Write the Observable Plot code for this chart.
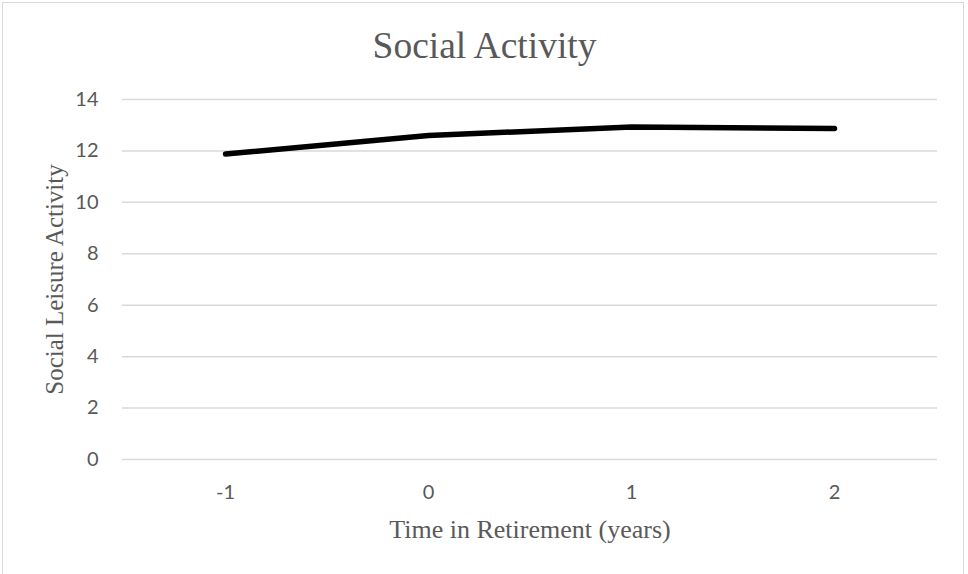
<!DOCTYPE html>
<html>
<head>
<meta charset="utf-8">
<script src="https://cdn.jsdelivr.net/npm/d3@7"></script>
<script src="https://cdn.jsdelivr.net/npm/@observablehq/plot@0.6"></script>
<style>
  html, body { margin: 0; padding: 0; background: #fff; }
  #wrap { position: relative; width: 968px; height: 574px; overflow: hidden; }
  #border { position: absolute; left: 2px; top: 2px; width: 962px; height: 600px; border: 1.5px solid #d9d9d9; box-sizing: border-box; pointer-events: none; }
</style>
</head>
<body>
<div id="wrap"><div id="border"></div></div>
<script>
const chartTitle = "Social Activity";
const xAxisTitle = "Time in Retirement (years)";
const yAxisTitle = "Social Leisure Activity";
const years = ["-1", "0", "1", "2"];
const socialActivity = [11.88, 12.6, 12.93, 12.87];
const yTicks = [0, 2, 4, 6, 8, 10, 12, 14];

const data = years.map((t, i) => ({t, v: socialActivity[i]}));
const serif = "'Liberation Serif', 'Times New Roman', serif";
const grey = "#595959";

const chart = Plot.plot({
  width: 968,
  height: 574,
  marginLeft: 122,
  marginRight: 31,
  marginTop: 99,
  marginBottom: 115,
  style: {fontFamily: "Lato, sans-serif", fontSize: "20px", color: grey, background: "transparent"},
  x: {type: "point", domain: years, padding: 0.5, label: null},
  y: {domain: [0, 14], ticks: yTicks, label: null},
  marks: [
    Plot.gridY(yTicks, {stroke: "#d9d9d9", strokeOpacity: 1, strokeWidth: 1.5}),
    Plot.axisY(yTicks, {tickSize: 0, tickPadding: 24, fill: grey, label: null}),
    Plot.axisX(years, {tickSize: 0, tickPadding: 25, fill: grey, label: null}),
    Plot.line(data, {x: "t", y: "v", stroke: "#000", strokeWidth: 5.5, strokeLinecap: "round", strokeLinejoin: "round"}),
    Plot.text([chartTitle], {frameAnchor: "top", textAnchor: "middle", dx: -45.5, dy: -53.5, fontFamily: serif, fontSize: 37.5, fill: grey, lineAnchor: "middle"}),
    Plot.text([xAxisTitle], {frameAnchor: "bottom", textAnchor: "middle", dy: 70, fontFamily: serif, fontSize: 26, fill: grey, lineAnchor: "middle"}),
    Plot.text([yAxisTitle], {frameAnchor: "left", textAnchor: "middle", dx: -68, rotate: -90, fontFamily: serif, fontSize: 25, fill: grey, lineAnchor: "middle"})
  ]
});
document.getElementById("wrap").prepend(chart);
</script>
</body>
</html>
